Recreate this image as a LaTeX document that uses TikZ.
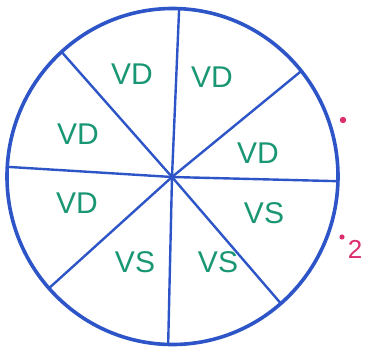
\documentclass[tikz,border=0pt]{standalone}
\usepackage{fontspec}
\setmainfont{Liberation Sans}
\usetikzlibrary{calc}
\definecolor{penblue}{RGB}{45,85,200}
\definecolor{pengreen}{RGB}{25,150,115}
\definecolor{penpink}{RGB}{220,45,110}
\begin{document}
\begin{tikzpicture}[x=1pt,y=-1pt,
  rim/.style={draw=penblue,line width=3.6pt},
  spoke/.style={draw=penblue,line width=2.4pt,line cap=round},
  lbl/.style={text=pengreen,font=\fontsize{30}{30}\selectfont,inner sep=0pt}]
\useasboundingbox (0,0) rectangle (365,351);
\fill[white] (0,0) rectangle (365,351);
\coordinate (o) at (172.5,176.5);
\coordinate (c) at (172,177);
\foreach \n/\a in {p1/272.3,p2/-38.9,p3/1.6,p4/49.1,p5/91.5,p6/138.3,p7/183.3,p8/227.9}
  \coordinate (\n) at ($(o)+(\a:165.5 and 168)$);
\foreach \p in {p1,p2,p3,p4,p5,p6,p7,p8} \draw[spoke] (c) -- (\p);
\draw[rim] (o) ellipse [x radius=165.5, y radius=168];
\node[lbl] (l1) at (132,74) {VD};
\node[lbl] (l2) at (212,77) {VD};
\node[lbl] (l3) at (78,134) {VD};
\node[lbl] (l4) at (258,153) {VD};
\node[lbl] (l5) at (77,203) {VD};
\node[lbl] (l6) at (264,213) {VS};
\node[lbl] (l7) at (135,262) {VS};
\node[lbl] (l8) at (218,262) {VS};
\fill[penpink] (343,120) circle (3.2);
\fill[penpink] (342,237) circle (2.6);
\node[text=penpink,font=\fontsize{26}{26}\selectfont,inner sep=0pt] (two) at (355,249) {2};
\end{tikzpicture}
\end{document}
